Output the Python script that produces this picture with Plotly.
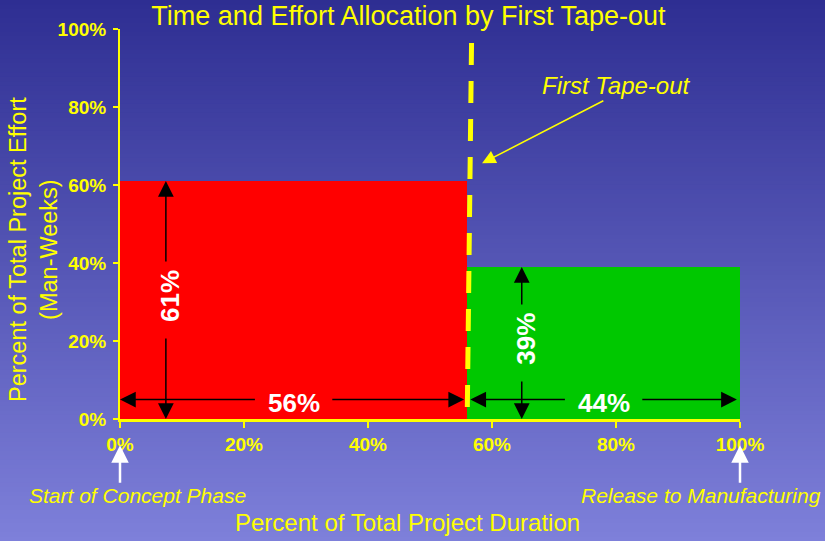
import plotly.graph_objects as go

# Phase split: share of project duration and share of effort (man-weeks)
phases = ["Before First Tape-out", "After First Tape-out"]
duration_pct = [56, 44]
effort_pct = [61, 39]
bar_colors = ["#FF0000", "#00C800"]

x_ticks = [0, 20, 40, 60, 80, 100]
y_ticks = [0, 20, 40, 60, 80, 100]
x_tick_text = ["0%", "20%", "40%", "60%", "80%", "100%"]
y_tick_text = ["0%", "20%", "40%", "60%", "80%", "100%"]

FONT = "Liberation Sans, Arial, sans-serif"
YELLOW = "#FFFF00"

fig = go.Figure()

# Bars: width = duration share, height = effort share
left = 0
for name, dur, eff, col in zip(phases, duration_pct, effort_pct, bar_colors):
    fig.add_trace(go.Bar(
        x=[left + dur / 2], y=[eff], width=[dur], name=name,
        marker=dict(color=col, line=dict(width=0)),
        hoverinfo="skip", showlegend=False,
    ))
    left += dur

tapeout = duration_pct[0]

# Background gradient built from thin horizontal strips
W, H = 825, 541
ML, MR, MT, MB = 120, 85, 29, 122
PW, PH = W - ML - MR, H - MT - MB
top_rgb = (46, 46, 146)
bot_rgb = (126, 128, 218)
n = 120
shapes = []
for i in range(n):
    t = (i + 0.5) / n
    c = tuple(round(top_rgb[k] + (bot_rgb[k] - top_rgb[k]) * t) for k in range(3))
    py0 = H * i / n
    py1 = H * (i + 1) / n + 1
    shapes.append(dict(
        type="rect", xref="paper", yref="paper", layer="below",
        x0=-ML / PW, x1=(W - ML) / PW,
        y0=(H - MB - py1) / PH, y1=(H - MB - py0) / PH,
        fillcolor="rgb(%d,%d,%d)" % c, line=dict(width=0),
    ))

# Dashed marker for the first tape-out
shapes.append(dict(
    type="line", xref="x", yref="y", layer="above",
    x0=tapeout + 0.7, y0=96.4, x1=tapeout, y1=0,
    line=dict(color=YELLOW, width=5, dash="22px,16px"),
))

annotations = []


def arrow(x, y, ax, ay, color="black", width=1.5, size=2.1, head=2):
    annotations.append(dict(
        x=x, y=y, ax=ax, ay=ay, xref="x", yref="y", axref="x", ayref="y",
        text="", showarrow=True, arrowhead=head, arrowsize=size,
        arrowwidth=width, arrowcolor=color, standoff=0, startstandoff=0,
    ))


def label(x, y, text, size=26, angle=0, xshift=0, yshift=0):
    annotations.append(dict(
        x=x, y=y, xref="x", yref="y", text="<b>%s</b>" % text,
        showarrow=False, textangle=angle, xshift=xshift, yshift=yshift,
        xanchor="center", yanchor="middle",
        font=dict(family=FONT, size=size, color="white"),
    ))


# Horizontal duration arrows along the bottom of each bar
h_y = 5
h_gap = 6
left = 0
for dur in duration_pct:
    mid = left + dur / 2
    arrow(left + 0.5 if left else 0, h_y, mid - h_gap, h_y)
    arrow(left + dur - 0.5, h_y, mid + h_gap, h_y)
    label(mid, h_y, "%d%%" % dur, yshift=-3)
    left += dur

# Vertical effort arrows inside each bar
v_x = [7.4, tapeout + 8.8]
v_gap = 9.5
for vx, eff in zip(v_x, effort_pct):
    mid = eff / 2
    arrow(vx, eff, vx, mid + v_gap)
    arrow(vx, 0, vx, mid - v_gap)
    label(vx, mid, "%d%%" % eff, angle=-90, xshift=4, yshift=4)

# Callout for the tape-out line
annotations.append(dict(
    x=tapeout + 2.4, y=65.6, ax=78.2, ay=81.8,
    xref="x", yref="y", axref="x", ayref="y",
    text="", showarrow=True, arrowhead=2, arrowsize=1.8, arrowwidth=1.5,
    arrowcolor=YELLOW, standoff=0,
))
annotations.append(dict(
    x=80, y=85.6, xref="x", yref="y", text="<i>First Tape-out</i>",
    showarrow=False, xanchor="center", yanchor="middle",
    font=dict(family=FONT, size=24, color=YELLOW),
))

# Milestone markers under the x axis
for xm, txt, xt in [(0, "Start of Concept Phase", 2.9),
                    (100, "Release to Manufacturing", 93.7)]:
    annotations.append(dict(
        x=xm, y=-0.067, xref="x", yref="paper", ax=0, ay=39,
        axref="pixel", ayref="pixel", text="", showarrow=True,
        arrowhead=2, arrowsize=1.4, arrowwidth=2.5, arrowcolor="white",
        standoff=0,
    ))
    annotations.append(dict(
        x=xt, y=-0.197, xref="x", yref="paper", text="<i>%s</i>" % txt,
        showarrow=False, xanchor="center", yanchor="middle",
        font=dict(family=FONT, size=21, color=YELLOW),
    ))

# Axis titles
annotations.append(dict(
    x=(33 - ML) / PW, y=(H - MB - 250) / PH, xref="paper", yref="paper",
    text="Percent of Total Project Effort<br>(Man-Weeks)", textangle=-90,
    showarrow=False, xanchor="center", yanchor="middle",
    font=dict(family=FONT, size=23.5, color=YELLOW),
))
annotations.append(dict(
    x=(407 - ML) / PW, y=(H - MB - 522) / PH, xref="paper", yref="paper",
    text="Percent of Total Project Duration",
    showarrow=False, xanchor="center", yanchor="middle",
    font=dict(family=FONT, size=24, color=YELLOW),
))

fig.update_layout(
    width=W, height=H,
    margin=dict(l=ML, r=MR, t=MT, b=MB, pad=0),
    paper_bgcolor="rgb(86,87,182)",
    plot_bgcolor="rgba(0,0,0,0)",
    barmode="overlay", bargap=0,
    title=dict(
        text="Time and Effort Allocation by First Tape-out",
        x=408.5 / W, xref="container", xanchor="center",
        y=1 - 16 / H, yref="container", yanchor="middle",
        font=dict(family=FONT, size=27, color=YELLOW),
    ),
    xaxis=dict(
        range=[0, 100], tickmode="array", tickvals=x_ticks, ticktext=x_tick_text,
        showgrid=False, zeroline=False,
        showline=True, linecolor=YELLOW, linewidth=3,
        ticks="outside", ticklen=6, tickwidth=2, tickcolor=YELLOW,
        tickfont=dict(family=FONT, size=19, color=YELLOW, weight="bold"),
        fixedrange=True,
    ),
    yaxis=dict(
        range=[0, 100], tickmode="array", tickvals=y_ticks, ticktext=y_tick_text,
        showgrid=False, zeroline=False,
        showline=True, linecolor=YELLOW, linewidth=2,
        ticks="outside", ticklen=5, tickwidth=2, tickcolor=YELLOW,
        ticklabelstandoff=3,
        tickfont=dict(family=FONT, size=19, color=YELLOW, weight="bold"),
        fixedrange=True,
    ),
    shapes=shapes,
    annotations=annotations,
    showlegend=False,
)

fig.write_html("out.html")
